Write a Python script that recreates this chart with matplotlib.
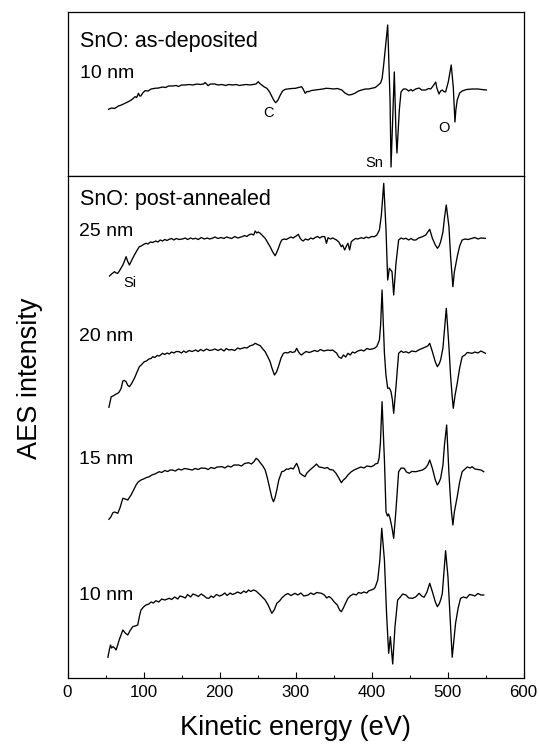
import matplotlib
matplotlib.use("Agg")
import matplotlib.pyplot as plt
from matplotlib.ticker import MultipleLocator

plt.rcParams['font.family'] = ['Liberation Sans', 'DejaVu Sans']

# ---- data (kinetic energy in eV, AES intensity in arbitrary units) ----
E_asdep10 = [54, 58, 62, 67, 71, 75, 80, 84, 87, 89, 91, 93.4, 95, 96.5, 99, 102, 106, 110, 115, 120, 125,
             129, 133, 138, 143, 146, 150, 155, 160, 165, 170, 175, 179, 181, 183, 185, 188, 194, 198, 203,
             208, 212, 217, 222, 226, 230, 235, 240, 244, 248, 251, 253, 255.5, 259, 262.4, 266, 269, 272,
             274, 277, 280, 283, 286.5, 290, 295, 300, 304, 308, 310, 312.8, 315, 317, 321, 326, 331, 336,
             340, 345, 350, 355, 361, 365, 370, 374, 378, 383, 387, 392, 396, 400, 405, 409, 412, 414, 416,
             421.3, 424.4, 425.7, 427.9, 430.0, 432.2, 433.5, 436.6, 438.8, 442, 445.3, 449, 452, 454, 458,
             462.7, 466, 471.4, 475, 477.9, 481, 484.5, 486, 488.8, 491, 493.2, 495, 497.5, 501, 504.9,
             507.6, 509.8, 511, 512.8, 516, 519.3, 525, 532.4, 540, 545, 551.2]
I_asdep10 = [0.7, 2, 1.5, 4, 5, 6.5, 8.3, 10, 12, 13.3, 12.5, 16.7, 14, 14, 17, 19.3, 19, 21, 21.7, 22, 23,
             22.5, 24, 24, 24.5, 23.5, 25, 25, 25.5, 25, 26, 25.5, 26, 27.5, 26, 24.3, 26, 26, 25, 25.5,
             24.5, 25.5, 25, 25.5, 24.5, 25, 25.5, 25, 25.5, 26, 28.3, 26.5, 25, 23, 21.7, 18, 13.3, 9,
             7.3, 10, 15, 19, 20.7, 21, 21.5, 21.7, 22.5, 23.3, 21, 16.7, 18.5, 18.3, 19.5, 20, 20.5, 21,
             21.7, 21.5, 21, 21.5, 20, 17, 15, 15.5, 16.7, 19, 20, 21, 21, 21.7, 22.5, 25, 27, 31.7, 45,
             85, 10, -57, -7, 38, -23, -43, 0, 18, 21, 21, 19, 20.5, 19, 21,
             22, 20, 20, 21.5, 21, 24, 28, 22, 16, 19, 20, 18.5, 18, 28, 45,
             23, -12, 0, 10, 17, 19, 20.5, 21, 21, 20.5, 20]

E_ann25 = [55.3, 58, 61.9, 64, 66.2, 69, 72.8, 75, 77.1, 79, 81.5, 84, 88, 91, 94.5, 97, 100, 103.3, 106,
           109, 112, 116.3, 119, 122, 125, 128, 131, 133.8, 137, 140, 143, 147, 151.2, 155, 158, 162, 165,
           168.6, 172, 176, 180, 184, 187, 190.4, 194, 198, 202, 206, 209, 212.2, 216, 220, 224, 229.6,
           233, 236, 238.3, 242, 245, 247, 249, 251, 253.6, 257, 260.1, 263, 266.6, 270, 273.2, 275,
           277.5, 280, 281.9, 285, 288, 290.6, 294, 297, 299.3, 301, 303.7, 306, 308, 310.2, 313, 316.7,
           320, 323, 325.5, 329, 332, 335, 338.5, 340.7, 342.9, 346, 349, 351.6, 354, 357, 360.3, 362,
           364.7, 367, 369, 371.2, 373.4, 376, 379, 382, 386.5, 390, 393, 396, 400, 403.9, 407, 410.4,
           413, 416.1, 419.1, 421.3, 423.5, 427, 429.2, 432.2, 435.7, 439, 442, 445.3, 449, 452, 455,
           458.3, 462, 466, 471.4, 474, 476.6, 480.1, 484, 486.7, 489, 491, 494, 496, 498.4, 501.9, 504.1,
           507.1, 509, 512.8, 516, 519.3, 523, 527, 532.4, 536, 540, 544, 549.9]
I_ann25 = [4, 6, 8.3, 7, 6.7, 10, 15, 19, 23.3, 19, 15, 19, 25, 29, 33.3, 34, 35.5, 36.7, 36, 38, 37.5,
           39, 38, 40, 39, 40.5, 39.5, 40.7, 41.5, 40, 41.5, 40.5, 41, 42, 40.5, 42, 41, 41.7, 40.5, 42.5,
           41, 42, 41, 41.7, 43, 41.5, 42.5, 41.5, 43, 42.3, 41.5, 43.5, 42, 43.3, 44.5, 43.5, 45, 46, 45,
           49, 47, 48, 46.7, 44, 41.7, 38, 33.3, 28, 24.3, 27, 31.7, 37, 40, 41, 40.5, 41.7, 43, 42, 43.3,
           44, 45.7, 42, 40, 39, 41, 40, 42, 41, 42.3, 43.5, 42, 43.5, 43.3, 36.7, 42.3, 41, 42, 41, 40,
           38, 33.3, 35, 30, 34, 36.7, 30, 38.3, 40, 41.5, 41, 42.3, 41.5, 43, 42, 43.5, 43.3, 45, 50, 65,
           96.7, 50, 0, 11.7, 8.3, -15, 16.7, 40, 42, 41, 41.7, 40, 41.5, 40, 40, 42, 43, 45, 48, 50.7,
           41.7, 35, 31.7, 34, 38.3, 48, 62, 75, 53.3, 23.3, -6.7, 8, 23.3, 34, 40, 41, 40.5, 41.7, 42.5,
           41, 42, 41.7]

E_ann20 = [54.5, 57.5, 60, 61.9, 64, 66.2, 68, 70.6, 72.8, 75, 77.1, 79, 81.5, 84, 88, 91, 94.5, 97, 101,
           104, 107, 110, 112, 115, 118, 121, 125, 128, 131, 134, 137, 140, 143, 146.8, 150, 153, 156, 160,
           164, 168.6, 172, 175, 179, 183, 187, 190.4, 194, 198, 202, 206, 209, 212.2, 216, 220, 224, 227,
           229.6, 233, 236, 240.5, 244, 247, 250, 253.6, 257, 260.1, 263, 266.6, 269, 272.3, 275, 277.5,
           281, 284.1, 287, 290, 293, 296, 299.3, 301.5, 304, 306, 308, 311, 314, 318, 321.1, 325, 329,
           333, 337, 342.9, 346, 349, 351.6, 354, 357, 360.3, 363, 366, 369, 372, 375, 378, 382, 386.5,
           390, 394, 398, 403.9, 407, 410.4, 412, 413.9, 417, 419, 421.3, 423.5, 425.7, 427.5, 429.2,
           432.2, 435.7, 439, 442, 445.3, 449, 453, 458.3, 462, 467.1, 471, 474, 476.6, 480.1, 484, 486.7,
           489, 491, 494, 496, 498.4, 500, 501.9, 504, 506.2, 507.6, 510, 512.8, 516, 519.3, 523, 526,
           532.4, 536, 540, 544, 549.9]
I_ann20 = [2.7, 13.3, 14, 15, 16, 16.7, 18, 21.7, 29, 29.5, 28.3, 25, 23.3, 26, 31.7, 37, 43.3, 45, 48.3,
           49, 51, 51.5, 53.3, 52.5, 54.5, 54, 56.7, 55.5, 57, 56, 58, 57, 58.5, 58.3, 57, 59, 57.5, 59.5,
           58.5, 60, 58.5, 60.5, 59, 61, 59.5, 60, 61, 59.5, 61, 59, 61.5, 60, 60.5, 59.5, 62, 61, 61.7,
           62.5, 62, 64.3, 65, 66.7, 65.5, 64.3, 61, 58.3, 54, 48.3, 42, 35, 38, 43.3, 52, 56.7, 57.5, 57,
           58.5, 57.5, 58.3, 61.7, 58, 56, 55, 57, 58.5, 57.5, 58.3, 59.5, 58.5, 60.5, 59, 60, 59.5, 60,
           58.3, 57, 53, 51.7, 55, 53, 56.7, 55, 58, 57, 59, 60, 59, 61.5, 60.5, 61.7, 63.5, 70, 85, 120,
           56.7, 35, 21.7, 22, 18.3, 10, -3.3, 23.3, 56.7, 59, 57.5, 58.3, 57, 59, 58.3, 60, 61.7, 63, 64,
           66.7, 58.3, 48, 43.3, 46, 50, 62, 80, 101.7, 85, 63.3, 35, 13.3, 1.7, 15, 26.7, 42, 53.3, 55,
           57.5, 56.7, 58, 57, 59, 56.7]

E_ann15 = [54.5, 57, 59.7, 62, 66.2, 69, 72.8, 76, 79.3, 81, 83.6, 87, 90.2, 93, 96.7, 100, 104, 107.6,
           111, 115, 120.7, 124, 128, 132, 135, 138.1, 142, 146, 150, 154, 159.9, 164, 168, 172, 176,
           181.7, 185, 189, 193, 197, 203.5, 207, 211, 215, 219, 225.2, 229, 233, 238.3, 242, 245, 248.3,
           251, 253.6, 257, 260.1, 263, 266.6, 269, 271, 273, 275.4, 278, 281.9, 285, 288, 290.6, 294,
           297, 301.5, 304, 305.9, 309, 312.4, 315, 318.9, 322, 325, 327.6, 331, 335, 338.5, 342, 345,
           349.4, 353, 357, 360.3, 363, 366, 369, 373, 377, 382.1, 386, 390, 394, 399.5, 403, 405, 408.2,
           410, 411.7, 413.9, 417, 419.1, 421, 422.5, 424.4, 427, 429.2, 432.2, 435.7, 439, 443.1, 446,
           449.6, 453, 458.3, 462, 467.1, 471, 474, 476.6, 480.1, 484, 486.7, 489, 491, 494, 496, 498.9,
           500.5, 501.9, 504, 505.4, 507.1, 509, 512.8, 516, 519.3, 523, 526, 530, 532.4, 536, 540, 544,
           547.7]
I_ann15 = [0.7, 3, 7.3, 8, 6.7, 12, 21.7, 21, 20, 22, 25, 30, 35, 38, 40, 41, 42.5, 43.3, 45, 46, 48.3,
           47.5, 49.5, 48.5, 50, 50, 49, 51, 50, 51.5, 50.7, 50, 51.5, 50.5, 52, 51.7, 50.5, 52.5, 51.5,
           53, 53.3, 52, 54, 53, 55, 55, 54, 56.5, 57.3, 56, 58, 61.7, 60, 57.3, 54, 50, 42, 30, 22, 18.3,
           22, 30, 40, 48.3, 49, 51, 50.7, 52, 51, 56.7, 52, 46.7, 45, 43.3, 47, 50, 52, 54, 56, 53, 52.5,
           51.7, 52.5, 50.5, 50, 47, 42, 37.3, 40, 42, 45, 48, 50, 51.7, 53, 52, 54, 53.3, 54.5, 56, 56.7,
           62, 76.7, 118.3, 60, 8.3, 4, 6, 1.7, -8, -18.3, 10, 48.3, 52, 51.7, 48, 46.7, 48.5, 48.3, 49,
           50, 52, 55, 60, 51.7, 40, 35, 38, 41.7, 55, 75, 95, 70, 46.7, 20, 6.7, -5, 8, 23.3, 38, 48.3,
           51, 53, 52, 53.3, 51, 50.5, 50, 48.3]

E_ann10 = [53.2, 55, 56.6, 58, 59.7, 62, 64, 68, 72.8, 76, 79.3, 82, 85.8, 89, 92.4, 95, 96.7, 100, 103.3,
           107, 110, 113, 116.3, 120, 124, 128, 133.8, 137, 141, 145, 148, 151.2, 155, 158, 162, 165,
           168.6, 172, 176, 180, 183, 186, 189, 192, 196, 200, 203.5, 207, 210, 214, 217, 220.9, 224, 228,
           232, 235, 238.3, 241, 244.8, 248, 251.4, 255, 260.1, 264, 268.8, 272, 275.4, 279, 282, 286.3,
           290, 294, 299.3, 303, 307, 311, 316.7, 320, 324, 328, 334.2, 338, 341, 344, 347.2, 351, 355,
           358, 360.3, 363, 366, 369, 372, 376, 380, 383, 386.5, 390, 394, 396, 399.5, 403, 405, 408.2,
           411, 413.5, 417, 420, 422.6, 424.8, 427.9, 430.9, 434.4, 438, 441, 445.3, 449, 454, 458, 462.7,
           466, 469.2, 473, 476.6, 480.1, 484, 486.7, 489, 491, 493.2, 495.5, 497.5, 500.6, 504.1, 506.2,
           508.5, 510.6, 514, 517.2, 521, 525, 529, 532.4, 536, 540, 544, 547.7]
I_ann10 = [2.7, 10, 15, 12, 13.3, 12, 10, 20, 30, 27, 25, 29, 33.3, 34, 35, 45, 50, 53, 55, 56, 58, 57,
           59.3, 58, 61, 60, 61.7, 60.5, 63, 61, 64, 63.3, 62, 65.5, 63, 66, 65, 63.5, 66, 64, 62, 61.7,
           64, 62.5, 65.5, 64, 65, 67, 64.5, 67, 65.5, 66.7, 68, 66.5, 69, 67.5, 70, 68.5, 70, 69, 66.7, 64,
           60, 55, 46.7, 50, 56.7, 59, 62, 65, 66.5, 64.5, 66.7, 65, 67, 64, 65, 67, 65.5, 67.5, 66.7, 65,
           62, 63.5, 61.7, 58, 55, 50, 48.3, 52, 57, 61.7, 64, 66, 65, 67.5, 66.7, 68, 67, 69, 70, 71, 73,
           80, 100, 131.7, 100, 43.3, 6.7, 23.3, -4, 33.3, 60, 63, 66, 65, 62, 61.7, 63, 66.7, 64, 62.7,
           68, 76.7, 68.3, 58, 53.3, 56, 60, 66.7, 90, 109.3, 83.3, 33.3, 2.7, 20, 36.7, 52, 61.7, 63, 62,
           65.5, 65, 64, 66.5, 65, 65]

ann_labels = ["25 nm", "20 nm", "15 nm", "10 nm"]
ann_E = [E_ann25, E_ann20, E_ann15, E_ann10]
ann_I = [I_ann25, I_ann20, I_ann15, I_ann10]
ann_offsets = [420, 290, 180, 40]
ann_label_y = [468, 363, 240, 105]

x_ticks = [0, 100, 200, 300, 400, 500, 600]

# ---- figure ----
W, H = 539, 748
fig = plt.figure(figsize=(W / 100, H / 100), dpi=100)

L = 67.5 / W
Wd = 456 / W
top_t = 1 - 11.7 / H
mid = 1 - 175.7 / H
bot = 1 - 678.3 / H

ax1 = fig.add_axes([L, mid, Wd, top_t - mid])
ax2 = fig.add_axes([L, bot, Wd, mid - bot])

lw = 0.95
ax1.plot(E_asdep10, I_asdep10, color='black', lw=lw)
ax1.set_xlim(0, 600)
ax1.set_ylim(-65.7, 98.3)
ax1.set_xticks([])
ax1.set_yticks([])

tfs = 15.5
nfs = 14
pfs = 10.5
ax1.text(17, 68, "SnO: as-deposited", fontsize=tfs, va='center', ha='left')
ax1.text(17, 37, "10 nm", fontsize=nfs, va='center', ha='left')
ax1.text(265, -3, "C", fontsize=pfs, va='center', ha='center')
ax1.text(404, -53, "Sn", fontsize=pfs, va='center', ha='center')
ax1.text(495, -18, "O", fontsize=pfs, va='center', ha='center')

for E, I, off, lab, ly in zip(ann_E, ann_I, ann_offsets, ann_labels, ann_label_y):
    ax2.plot(E, [v + off for v in I], color='black', lw=lw)
    ax2.text(15, ly, lab, fontsize=nfs, va='center', ha='left')

ax2.text(16, 501, "SnO: post-annealed", fontsize=tfs, va='center', ha='left')
ax2.text(82, 417, "Si", fontsize=pfs, va='center', ha='center')

ax2.set_xlim(0, 600)
ax2.set_ylim(21.7, 524.3)
ax2.set_yticks([])
ax2.set_xticks(x_ticks)
ax2.xaxis.set_minor_locator(MultipleLocator(50))
ax2.tick_params(axis='x', which='major', direction='in', length=4.5, width=0.8,
                labelsize=12.2, pad=5, top=False)
ax2.tick_params(axis='x', which='minor', direction='in', length=2.5, width=0.8, top=False)

for ax in (ax1, ax2):
    for s in ax.spines.values():
        s.set_linewidth(0.9)

fig.text((L + Wd / 2), 1 - 728 / H, "Kinetic energy (eV)", fontsize=19.5, ha='center', va='center')
fig.text(30 / W, 1 - 378 / H, "AES intensity", fontsize=19.5, ha='center', va='center', rotation=90)

fig.savefig("out.png", dpi=100)
